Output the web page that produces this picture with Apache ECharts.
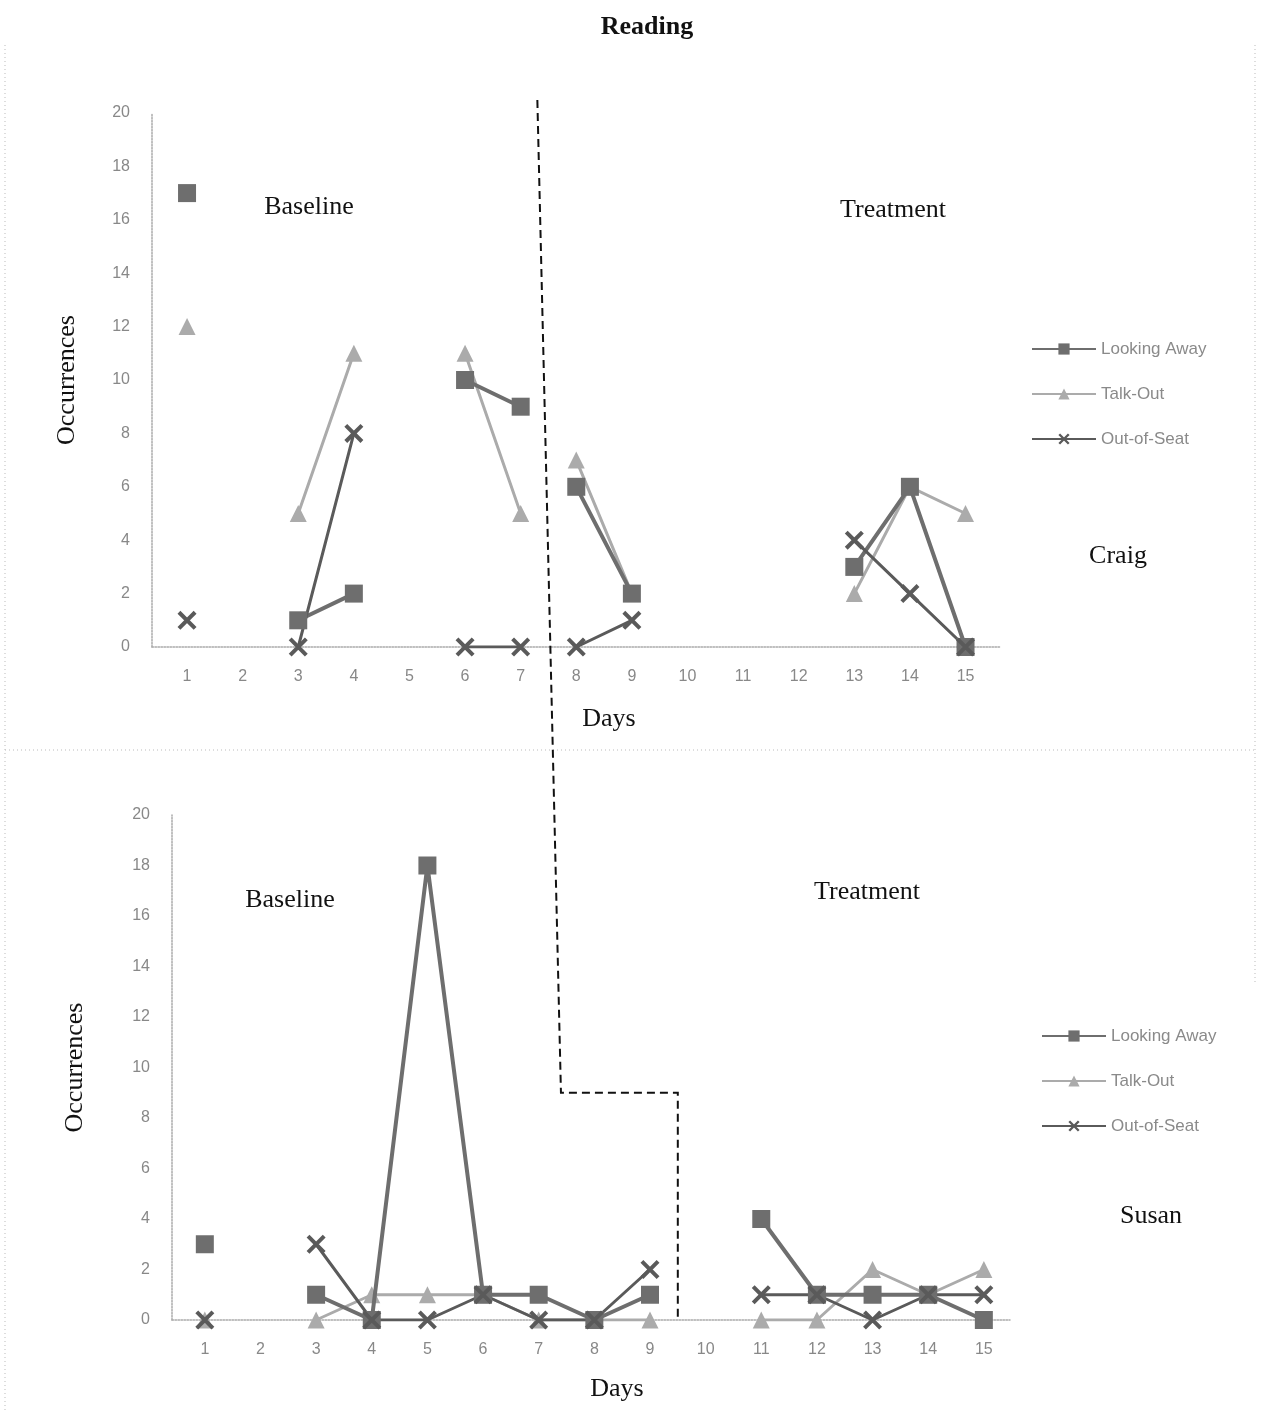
<!DOCTYPE html>
<html>
<head>
<meta charset="utf-8">
<script src="https://cdn.jsdelivr.net/npm/echarts@6/dist/echarts.min.js"></script>
<style>
    html, body { margin: 0; padding: 0; background: #fff; }
    #chart { width: 1261px; height: 1412px; }
</style>
</head>
<body>
<div id="chart"></div>
<script>
(function () {
    'use strict';

    // days and tick labels
    var days = [1, 2, 3, 4, 5, 6, 7, 8, 9, 10, 11, 12, 13, 14, 15];
    var yTicks = [0, 2, 4, 6, 8, 10, 12, 14, 16, 18, 20];
    var behaviours = ['Looking Away', 'Talk-Out', 'Out-of-Seat'];

    // Craig (top), null = no observation
    var craigLooking = [17, null, 1, 2, null, 10, 9, 6, 2, null, null, null, 3, 6, 0];
    var craigTalk    = [12, null, 5, 11, null, 11, 5, 7, 2, null, null, null, 2, 6, 5];
    var craigSeat    = [1, null, 0, 8, null, 0, 0, 0, 1, null, null, null, 4, 2, 0];
    var craigLastBaselineDay = 7;

    // Susan (bottom)
    var susanLooking = [3, null, 1, 0, 18, 1, 1, 0, 1, null, 4, 1, 1, 1, 0];
    var susanTalk    = [0, null, 0, 1, 1, 1, 0, 0, 0, null, 0, 0, 2, 1, 2];
    var susanSeat    = [0, null, 3, 0, 0, 1, 0, 0, 2, null, 1, 1, 0, 1, 1];
    var susanLastBaselineDay = 9;

    var serif = '"Liberation Serif", "DejaVu Serif", serif';
    var sans = '"Liberation Sans", "DejaVu Sans", sans-serif';

    var xMark = 'path://M0,1.5L1.5,0L10,8.5L8.5,10ZM8.5,0L10,1.5L1.5,10L0,8.5Z';
    var styles = {
        'Looking Away': { color: '#6e6e6e', symbol: 'rect', size: 18, width: 4 },
        'Talk-Out':     { color: '#ababab', symbol: 'triangle', size: 17, width: 3 },
        'Out-of-Seat':  { color: '#5a5a5a', symbol: xMark, size: 19, width: 3 }
    };

    var myChart = echarts.init(document.getElementById('chart'));

    //轴的公共设置
    function xAxis(gridIndex, min, max) {
        return {
            gridIndex: gridIndex,
            type: 'value',
            min: min,
            max: max,
            axisLine: { lineStyle: { color: '#aaa', type: 'dotted', width: 1.5 } },
            axisTick: { show: false },
            splitLine: { show: false },
            axisLabel: {
                customValues: days,
                color: '#888',
                fontFamily: sans,
                fontSize: 16,
                margin: 22
            }
        };
    }

    function yAxis(gridIndex, gap) {
        return {
            gridIndex: gridIndex,
            type: 'value',
            min: 0,
            max: 20,
            interval: 2,
            axisLine: { show: true, lineStyle: { color: '#aaa', type: 'dotted', width: 1.5 } },
            axisTick: { show: false },
            splitLine: { show: false },
            axisLabel: {
                customValues: yTicks,
                color: '#888',
                fontFamily: sans,
                fontSize: 16,
                margin: 22
            },
            name: 'Occurrences',
            nameLocation: 'middle',
            nameGap: gap,
            nameTextStyle: { fontFamily: serif, fontSize: 26, color: '#111' }
        };
    }

    // 按阶段把一个行为拆成两条线（基线/干预之间不相连）
    function phaseSeries(name, values, lastBaseline, axisIndex) {
        var st = styles[name];
        var out = [];
        [[1, lastBaseline], [lastBaseline + 1, 15]].forEach(function (range) {
            var data = [];
            for (var i = 0; i < days.length; i++) {
                var d = days[i];
                if (d < range[0] || d > range[1]) continue;
                data.push([d, values[i] === null ? null : values[i]]);
            }
            out.push({
                name: name,
                type: 'line',
                xAxisIndex: axisIndex,
                yAxisIndex: axisIndex,
                data: data,
                connectNulls: false,
                symbol: st.symbol,
                symbolSize: st.size,
                showAllSymbol: true,
                lineStyle: { color: st.color, width: st.width },
                itemStyle: { color: st.color, borderWidth: 0 },
                emphasis: { disabled: true },
                animation: false,
                z: name === 'Talk-Out' ? 3 : 4
            });
        });
        return out;
    }

    var series = []
        .concat(phaseSeries('Looking Away', craigLooking, craigLastBaselineDay, 0))
        .concat(phaseSeries('Talk-Out', craigTalk, craigLastBaselineDay, 0))
        .concat(phaseSeries('Out-of-Seat', craigSeat, craigLastBaselineDay, 0))
        .concat(phaseSeries('Looking Away', susanLooking, susanLastBaselineDay, 1))
        .concat(phaseSeries('Talk-Out', susanTalk, susanLastBaselineDay, 1))
        .concat(phaseSeries('Out-of-Seat', susanSeat, susanLastBaselineDay, 1));

    function legend(left, top) {
        return {
            data: behaviours,
            orient: 'vertical',
            left: left,
            top: top,
            itemWidth: 64,
            itemHeight: 14,
            itemGap: 25,
            selectedMode: false,
            textStyle: { color: '#8a8a8a', fontFamily: sans, fontSize: 17, lineHeight: 20 }
        };
    }

    function label(text, x, y, size, weight) {
        return {
            type: 'text',
            x: x,
            y: y,
            style: {
                text: text,
                fontFamily: serif,
                fontSize: size || 26,
                fontWeight: weight || 'normal',
                fill: '#111',
                align: 'center',
                verticalAlign: 'middle'
            }
        };
    }

    function dotted(points) {
        return {
            type: 'polyline',
            shape: { points: points },
            style: { stroke: '#bbb', lineWidth: 1, lineDash: [1, 3], fill: null },
            silent: true
        };
    }

    var option = {
        backgroundColor: '#fff',
        animation: false,
        grid: [
            { left: 152, top: 113, width: 848, height: 534 },
            { left: 172, top: 815, width: 838, height: 505 }
        ],
        xAxis: [xAxis(0, 0.37, 15.62), xAxis(1, 0.41, 15.47)],
        yAxis: [yAxis(0, 72), yAxis(1, 84)],
        legend: [legend(1026, 334), legend(1036, 1021)],
        series: series,
        graphic: [
            label('Reading', 647, 27, 26, 'bold'),
            label('Baseline', 309, 207),
            label('Treatment', 893, 210),
            label('Craig', 1118, 556),
            label('Days', 609, 719),
            label('Baseline', 290, 900),
            label('Treatment', 867, 892),
            label('Susan', 1151, 1216),
            label('Days', 617, 1389),
            dotted([[5, 45], [5, 1410]]),
            dotted([[1255, 45], [1255, 985]]),
            dotted([[5, 750], [1255, 750]])
        ]
    };

    myChart.setOption(option);

    // 阶段分界虚线：用轴换算位置
    var p1 = myChart.convertToPixel({ gridIndex: 0 }, [7.3, 20]);
    var p2 = myChart.convertToPixel({ gridIndex: 1 }, [7.4, 9]);
    var p3 = myChart.convertToPixel({ gridIndex: 1 }, [9.5, 9]);
    var p4 = myChart.convertToPixel({ gridIndex: 1 }, [9.5, 0]);
    option.graphic.push({
        type: 'polyline',
        shape: { points: [[p1[0], 100], p2, p3, p4] },
        style: { stroke: '#111', lineWidth: 2, lineDash: [8, 5], fill: null },
        silent: true,
        z: 10
    });
    myChart.setOption({ graphic: option.graphic });
})();
</script>
</body>
</html>
